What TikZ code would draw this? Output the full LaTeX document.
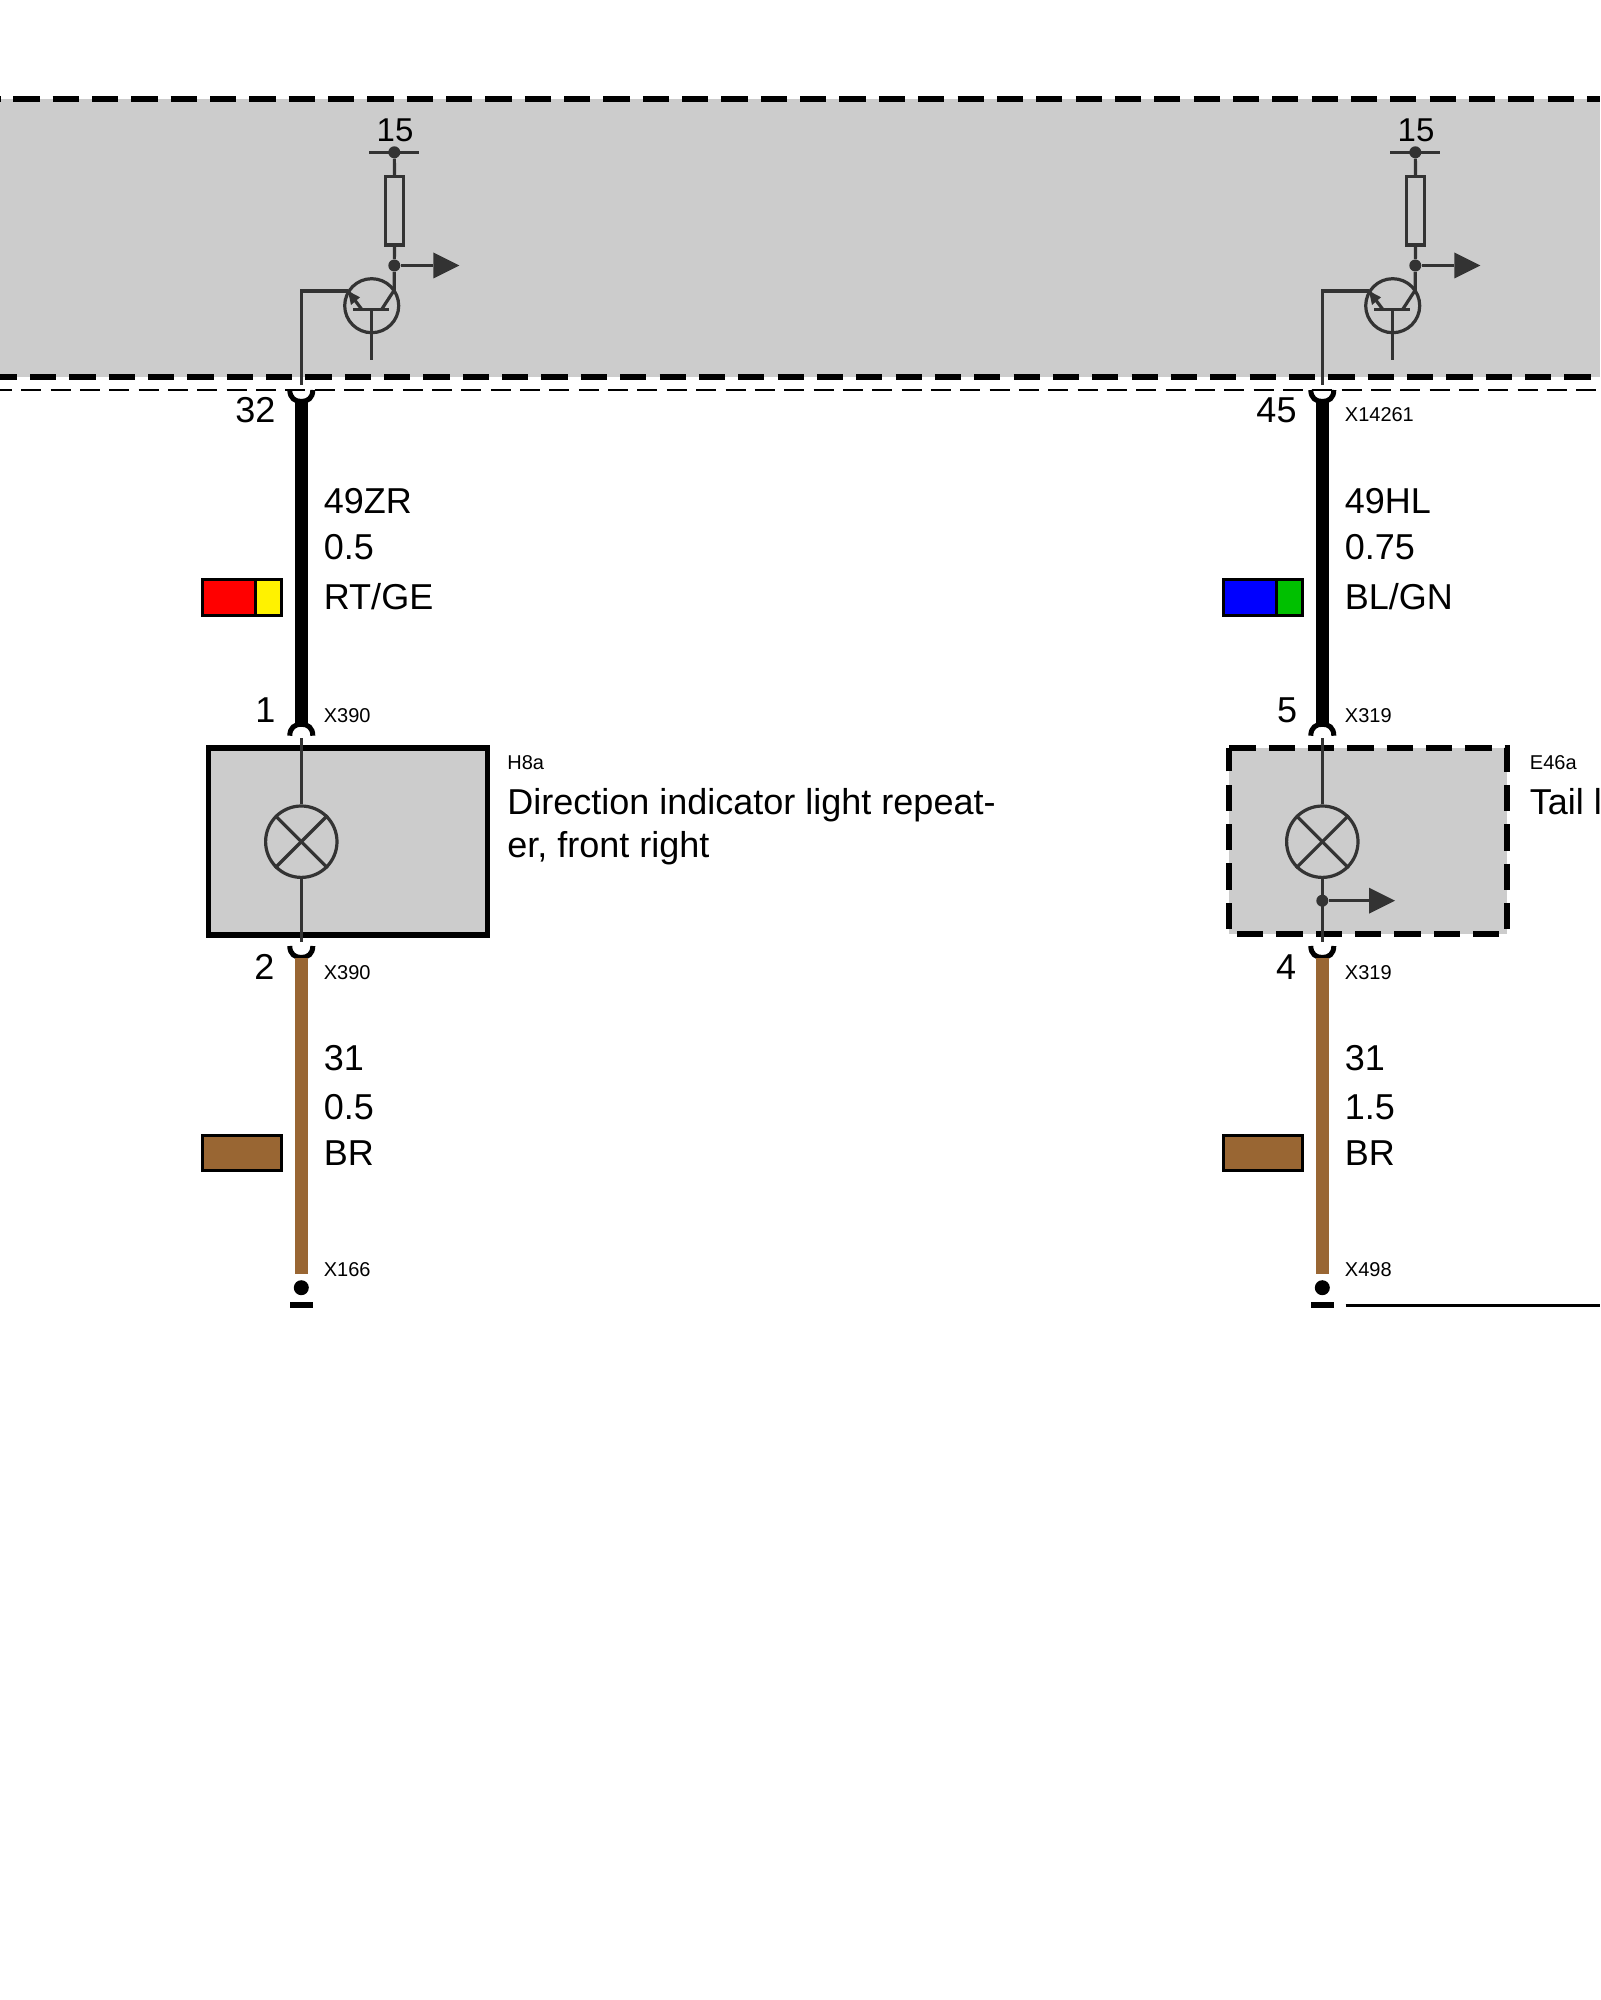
\documentclass[tikz,border=0pt]{standalone}
\usepackage{fontspec}
\setmainfont{Liberation Sans}
\definecolor{panel}{HTML}{CCCCCC}
\definecolor{sym}{HTML}{333333}
\definecolor{wirebr}{HTML}{996633}
\definecolor{swgreen}{HTML}{00C000}
\tikzset{
  big/.style={inner sep=0pt,font=\fontsize{18}{21}\selectfont},
  bigl/.style={big,anchor=west},
  tiny/.style={inner sep=0pt,anchor=west,font=\fontsize{10}{12}\selectfont},
  pin/.style={inner sep=0pt,font=\fontsize{18}{21}\selectfont},
  termv/.style={inner sep=0pt,font=\fontsize{16.5}{19}\selectfont},
  heavydash/.style={line width=3pt,dash pattern=on 13.1pt off 6.57pt},
  symline/.style={draw=sym,line width=1.6pt},
  bk/.style={draw=black,line width=6.8pt},
  br/.style={draw=wirebr,line width=6.8pt},
  cupl/.style={draw=black,line width=2.5pt},
  swatch/.style={draw=black,line width=1.5pt},
  dotn/.style={circle,fill=sym,inner sep=0pt,minimum size=6pt},
  lamp/.style={circle,draw=sym,line width=1.6pt,inner sep=0pt,minimum size=35.7pt},
}
\newcommand{\driver}[3]{%
  \begin{scope}[shift={(#1,0)}]
    \coordinate (#2base) at (301.3,291);
    \coordinate (#2end) at (301.3,385);
    \coordinate (#2etip) at (348,291);
    \coordinate (#2cj) at (394.3,290);
    \node[termv] (#2lab) at (395,130) {15};
    \node[dotn] (#2top) at (394.3,152.3) {};
    \node[dotn] (#2mid) at (394.3,265.5) {};
    \coordinate (#2bl) at (369.3,152.3);
    \coordinate (#2br) at (419.3,152.3);
    \node[draw=sym,line width=1.6pt,inner sep=0pt,minimum width=8.8pt,minimum height=34.2pt] (#2res) at (394.5,210.8) {};
    \coordinate (#2arr) at (433.3,265.5);
    \coordinate (#2tipA) at (433.3,252.5);
    \coordinate (#2tipB) at (433.3,278.5);
    \coordinate (#2tipC) at (459.3,265.5);
    \node[circle,draw=sym,line width=1.6pt,inner sep=0pt,minimum size=27pt] (#2q) at (371.7,305.7) {};
    \coordinate (#2b1) at (353,309.3);
    \coordinate (#2b2) at (389.3,309.3);
    \coordinate (#2bm) at (371.7,309.3);
    \coordinate (#2bo) at (371.7,360);
    \coordinate (#2ce) at (381.7,309.3);
    \coordinate (#2ee) at (361.7,309.3);
    \draw[symline] (#2bl) -- (#2br);
    \draw[symline] (#2top) -- (#2res.north);
    \draw[symline] (#2res.south) -- (#2mid);
    \draw[symline] (#2mid) -- (#2arr);
    \fill[sym] (#2tipA) -- (#2tipC) -- (#2tipB) -- cycle;
    \draw[symline] (#2mid) -- (#2cj) -- (#2ce);
    \draw[symline] (#2b1) -- (#2b2);
    \draw[symline] (#2bm) -- (#2bo);
    \draw[symline] (#2ee) -- (#2etip);
    \fill[sym] (#2etip) -- (360,297.3) -- (351,305) -- cycle;
    \draw[symline] (#2etip) -- (#2base) -- (#2end);
  \end{scope}}
\newcommand{\cupdown}[3]{% x, y, name: U-shaped contact opening upwards
  \draw[cupl] (#1-11.5,#2) .. controls (#1-11.5,#2+8) and (#1-6.5,#2+11.5) .. (#1,#2+11.5)
     .. controls (#1+6.5,#2+11.5) and (#1+11.5,#2+8) .. (#1+11.5,#2);
  \coordinate (#3) at (#1,#2+11.5);}
\newcommand{\cupup}[3]{% x, y, name: contact opening downwards
  \draw[cupl] (#1-11.5,#2) .. controls (#1-11.5,#2-8) and (#1-6.5,#2-11.5) .. (#1,#2-11.5)
     .. controls (#1+6.5,#2-11.5) and (#1+11.5,#2-8) .. (#1+11.5,#2);
  \coordinate (#3) at (#1,#2-11.5);}
\begin{document}
\begin{tikzpicture}[x=0.5pt,y=-0.5pt]
\useasboundingbox (0,0) rectangle (1600,2000);
\clip (0,0) rectangle (1600,2000);
\fill[white] (0,0) rectangle (1600,2000);
% control unit panel
\fill[panel] (0,99) rectangle (1600,377.5);
\draw[heavydash,dash phase=13pt] (0,99.3) -- (1600,99.3);
\draw[heavydash,dash phase=4.64pt] (0,377.3) -- (1600,377.3);
\draw[line width=1.1pt,dash pattern=on 10pt off 4.67pt,dash phase=4pt] (0,390) -- (1600,390);
\driver{0}{a}{}
\driver{1021}{b}{}
% ---- left column
\cupdown{301.3}{390}{c1}
\cupup{301.3}{735.7}{c2}
\draw[bk] (c1) -- (c2);
\node[pin] (n32) at (255.5,410) {32};
\node[bigl] (l1a) at (323.5,501.5) {49ZR};
\node[bigl] (l1b) at (323.5,547.5) {0.5};
\node[bigl] (l1c) at (323.5,597) {RT/GE};
\path[fill=red] (202.6,579.7) rectangle (255.7,615.5);
\path[fill=yellow] (255.7,579.7) rectangle (281.5,615.5);
\draw[swatch] (202.6,579.7) rectangle (281.5,615.5);
\draw[swatch] (255.7,579.7) -- (255.7,615.5);
\node[pin] (n1) at (265.5,710.5) {1};
\node[tiny] (x1) at (323.5,715.7) {X390};
\node[draw=black,fill=panel,line width=2.85pt,inner sep=0pt,minimum width=139.5pt,minimum height=93.5pt] (box1) at (348,841.5) {};
\node[lamp] (lp1) at (301.3,841.7) {};
\coordinate (w1t) at (301.3,738);
\coordinate (w1b) at (301.3,942);
\draw[symline] (w1t) -- (lp1.north);
\draw[symline] (lp1.south) -- (w1b);
\draw[symline] (lp1.45) -- (lp1.225);
\draw[symline] (lp1.135) -- (lp1.315);
\node[tiny] (h8) at (507,762.3) {H8a};
\node[bigl] (d1) at (507,805.5) {Direction indicator light repeat-};
\node[bigl] (d2) at (507,848.5) {er, front right};
\cupdown{301.3}{946}{c3}
\coordinate (e1) at (301.3,1274);
\draw[br] (c3) -- (e1);
\node[pin] (n2) at (264.5,967) {2};
\node[tiny] (x2) at (323.5,972.3) {X390};
\node[bigl] (l2a) at (323.5,1058) {31};
\node[bigl] (l2b) at (323.5,1107.5) {0.5};
\node[bigl] (l2c) at (323.5,1152.7) {BR};
\draw[swatch,fill=wirebr] (202.6,1135.5) rectangle (281.5,1170.8);
\node[tiny] (x3) at (323.5,1270) {X166};
\node[circle,fill=black,inner sep=0pt,minimum size=7.5pt] (g1) at (301.3,1287.7) {};
\node[fill=black,inner sep=0pt,minimum width=11.3pt,minimum height=3pt] (gb1) at (301.3,1305.3) {};
% ---- right column
\cupdown{1322.3}{390}{d1c}
\cupup{1322.3}{735.7}{d2c}
\draw[bk] (d1c) -- (d2c);
\node[pin] (n45) at (1276.5,410) {45};
\node[tiny] (x4) at (1344.5,415) {X14261};
\node[bigl] (r1a) at (1344.5,501.5) {49HL};
\node[bigl] (r1b) at (1344.5,547.5) {0.75};
\node[bigl] (r1c) at (1344.5,597) {BL/GN};
\path[fill=blue] (1223.6,579.7) rectangle (1276.7,615.5);
\path[fill=swgreen] (1276.7,579.7) rectangle (1302.5,615.5);
\draw[swatch] (1223.6,579.7) rectangle (1302.5,615.5);
\draw[swatch] (1276.7,579.7) -- (1276.7,615.5);
\node[pin] (n5) at (1287,710.5) {5};
\node[tiny] (x5) at (1344.5,715.7) {X319};
\fill[panel] (1229.3,748.3) rectangle (1507.3,934.3);
\draw[heavydash] (1229.3,748.3) -- (1507.3,748.3) -- (1507.3,934.3) -- (1229.3,934.3) -- cycle;
\node[lamp] (lp2) at (1322.3,841.7) {};
\coordinate (w2t) at (1322.3,738);
\coordinate (w2b) at (1322.3,942);
\node[dotn] (jd) at (1322.3,900.7) {};
\coordinate (ja) at (1369,900.7);
\draw[symline] (w2t) -- (lp2.north);
\draw[symline] (lp2.south) -- (w2b);
\draw[symline] (lp2.45) -- (lp2.225);
\draw[symline] (lp2.135) -- (lp2.315);
\draw[symline] (jd) -- (ja);
\fill[sym] (1369,887.7) -- (1395,900.7) -- (1369,913.7) -- cycle;
\node[tiny] (e46) at (1529.5,762.3) {E46a};
\node[bigl] (tl) at (1529.5,805.5) {Tail light};
\cupdown{1322.3}{946}{d3c}
\coordinate (e2) at (1322.3,1274);
\draw[br] (d3c) -- (e2);
\node[pin] (n4) at (1286,967.5) {4};
\node[tiny] (x6) at (1344.5,972.3) {X319};
\node[bigl] (r2a) at (1344.5,1058) {31};
\node[bigl] (r2b) at (1344.5,1107.5) {1.5};
\node[bigl] (r2c) at (1344.5,1152.7) {BR};
\draw[swatch,fill=wirebr] (1223.6,1135.5) rectangle (1302.5,1170.8);
\node[tiny] (x7) at (1344.5,1270) {X498};
\node[circle,fill=black,inner sep=0pt,minimum size=7.5pt] (g2) at (1322.3,1287.7) {};
\node[fill=black,inner sep=0pt,minimum width=11.3pt,minimum height=3pt] (gb2) at (1322.3,1305.3) {};
\coordinate (gnd) at (1345.7,1305.7);
\coordinate (gndr) at (1600,1305.7);
\draw[line width=1.5pt] (gnd) -- (gndr);
\end{tikzpicture}
\end{document}
